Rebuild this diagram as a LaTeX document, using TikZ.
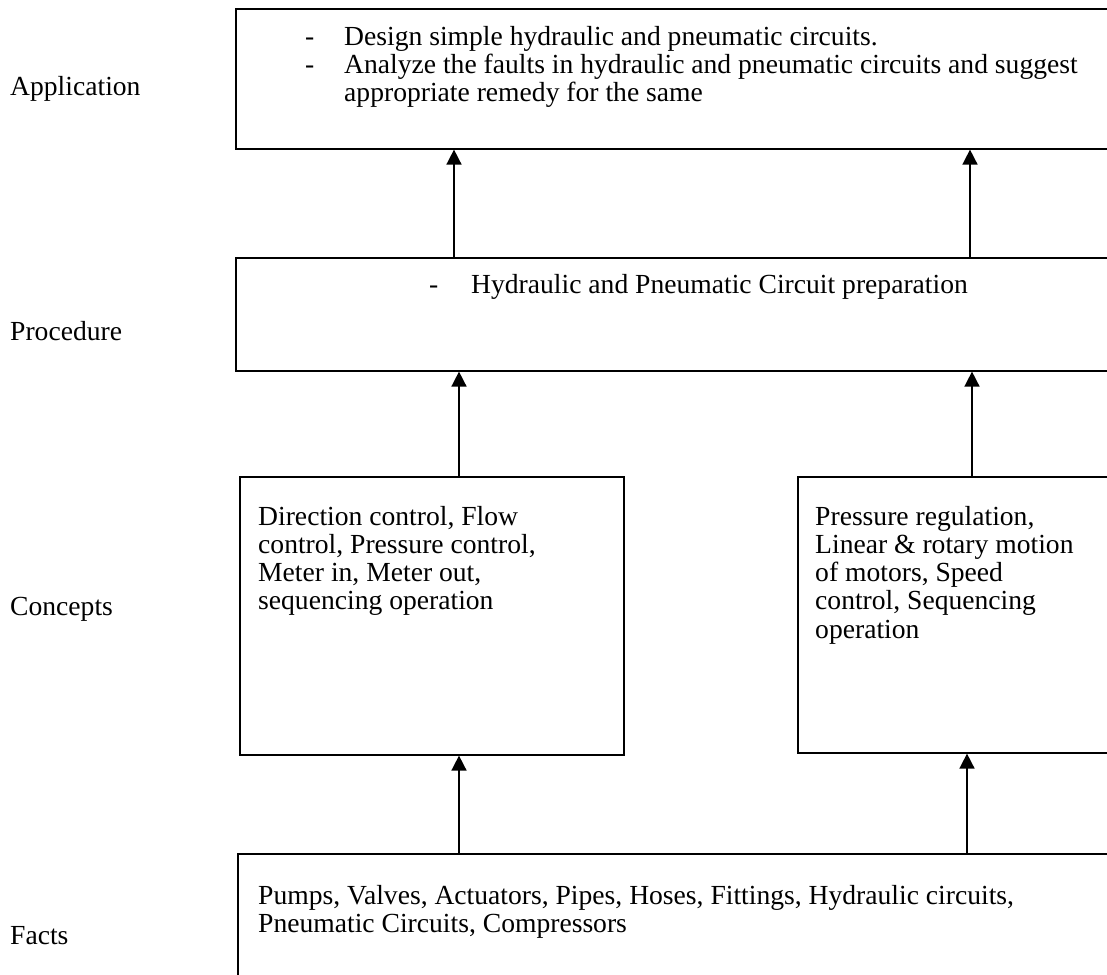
\documentclass[tikz,border=0pt]{standalone}
\usepackage{fontspec}
\setmainfont{Liberation Serif}
\usetikzlibrary{arrows.meta,positioning,calc}
\newcommand{\dashitem}[2][39pt]{\makebox[#1][l]{-}#2}

\begin{document}
\begin{tikzpicture}
[x=1pt,y=-1pt,
    every node/.style={font=\fontsize{27.6}{28.2}\selectfont},
    block/.style={draw=black,line width=1.6pt,inner sep=0pt,anchor=north west},
    txt/.style={inner sep=0pt,anchor=north west,align=left},
    level/.style={inner sep=0pt,anchor=west},
    edgearr/.style={line width=1.6pt,-{Triangle[width=15pt,length=15pt]}}]
\useasboundingbox (0,0) rectangle (1107,974);
\clip (0,0) rectangle (1107,974);
%%%%%%%%%%
%% levels
\node[level] (lapp) at (10,89) {Application};
\node[level] (lproc) at (10,331) {Procedure};
\node[level] (lcon) at (10,609) {Concepts};
\node[level] (lfacts) at (10,936) {Facts};
%%
%% blocks
\node[block,minimum width=900pt,minimum height=140pt] (app) at (235,8) {};
\node[block,minimum width=900pt,minimum height=113pt] (proc) at (235,257) {};
\node[block,minimum width=384pt,minimum height=278pt] (conl) at (239,476) {};
\node[block,minimum width=340pt,minimum height=276pt] (conr) at (797,476) {};
\node[block,minimum width=900pt,minimum height=160pt] (facts) at (237,853) {};
%%
%% texts
\node[txt] (apptext) at (305,26) {\dashitem{Design simple hydraulic and pneumatic circuits.}\\
\dashitem{Analyze the faults in hydraulic and pneumatic circuits and suggest}\\
\hspace*{39pt}appropriate remedy for the same};
\node[txt] (proctext) at (429,274) {\dashitem[42pt]{Hydraulic and Pneumatic Circuit preparation}};
\node[txt] (conltext) at (258,506) {Direction control, Flow\\control, Pressure control,\\Meter in, Meter out,\\sequencing operation};
\node[txt] (conrtext) at (815,506) {Pressure regulation,\\Linear \& rotary motion\\of motors, Speed\\control, Sequencing\\operation};
\node[txt] (factstext) at (258,885) {Pumps, Valves, Actuators, Pipes, Hoses, Fittings, Hydraulic circuits,\\Pneumatic Circuits, Compressors};
%%
%% arrows
\draw[edgearr] ($(proc.north west)+(219,0)$) coordinate (a1) -- (a1 |- app.south);
\draw[edgearr] ($(proc.north west)+(735,0)$) coordinate (a2) -- (a2 |- app.south);
\draw[edgearr] ($(conl.north west)+(220,0)$) coordinate (a3) -- (a3 |- proc.south);
\draw[edgearr] ($(conr.north west)+(175,0)$) coordinate (a4) -- (a4 |- proc.south);
\draw[edgearr] ($(facts.north west)+(222,0)$) coordinate (a5) -- (a5 |- conl.south);
\draw[edgearr] ($(facts.north west)+(730,0)$) coordinate (a6) -- (a6 |- conr.south);
\end{tikzpicture}
\end{document}
